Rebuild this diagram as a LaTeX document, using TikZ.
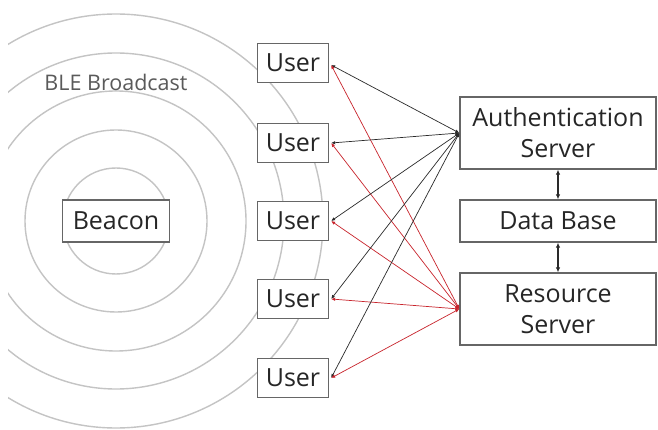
\documentclass[tikz,border=0pt]{standalone}
\usepackage{fontspec}
\setmainfont{Open Sans}
\usetikzlibrary{arrows.meta}
\definecolor{txt}{HTML}{262626}
\definecolor{boxline}{HTML}{666666}
\definecolor{ring}{HTML}{C4C4C4}
\definecolor{redline}{HTML}{C8242C}
\definecolor{blkline}{HTML}{2A2A2A}
\definecolor{bletext}{HTML}{5A5A5A}
\begin{document}
\begin{tikzpicture}[x=1pt,y=-1pt,
  box/.style={draw=boxline,line width=1.3pt,fill=white,text=txt,inner sep=0pt,font=\fontsize{25}{31}\selectfont},
  userbox/.style={box,minimum width=71pt,minimum height=39pt},
  srvbox/.style={box,minimum width=196pt,align=center},
  ringline/.style={draw=ring,line width=1.4pt},
  tip/.style={arrows={Latex[length=4pt,width=3.4pt]-Latex[length=4pt,width=3.4pt]}},
  authline/.style={tip,draw=blkline,line width=0.7pt},
  resline/.style={tip,draw=redline,line width=0.7pt},
  dbline/.style={arrows={Latex[length=5pt,width=4.5pt]-Latex[length=5pt,width=4.5pt]},draw=blkline,line width=1.3pt}]
\useasboundingbox (0,0) rectangle (658,430);
\fill[white] (0,0) rectangle (658,430);
% rings
\begin{scope}
\clip (8,0) rectangle (658,430);
\foreach \r in {53,91,130,168,207}
  \draw[ringline] (116,221) circle[radius=\r];
\end{scope}
\node[text=bletext,font=\fontsize{21.5}{24}\selectfont,anchor=center] (ble) at (116,82) {BLE Broadcast};
% boxes
\node[box,minimum width=107pt,minimum height=42pt] (beacon) at (116,221) {Beacon};
\node[userbox] (u1) at (293,63) {User};
\node[userbox] (u2) at (293,143) {User};
\node[userbox] (u3) at (293,221) {User};
\node[userbox] (u4) at (293,299) {User};
\node[userbox] (u5) at (293,378) {User};
\node[srvbox,minimum height=72pt] (auth) at (558,133) {Authentication\\Server};
\node[srvbox,minimum height=42pt] (db) at (558,221) {Data Base};
\node[srvbox,minimum height=72pt] (res) at (558,309) {Resource\\Server};
% connectors
\coordinate (authp) at (auth.west);
\coordinate (resp) at (res.west);
\foreach \u/\dy in {u1/2,u2/0,u3/0,u4/0,u5/0}{
  \draw[authline] (\u.east) ++(2,\dy) -- (authp);
  \draw[resline] (\u.east) ++(2,\dy) -- (resp);
}
\draw[dbline] (auth.south) -- (db.north);
\draw[dbline] (db.south) -- (res.north);
\end{tikzpicture}
\end{document}
